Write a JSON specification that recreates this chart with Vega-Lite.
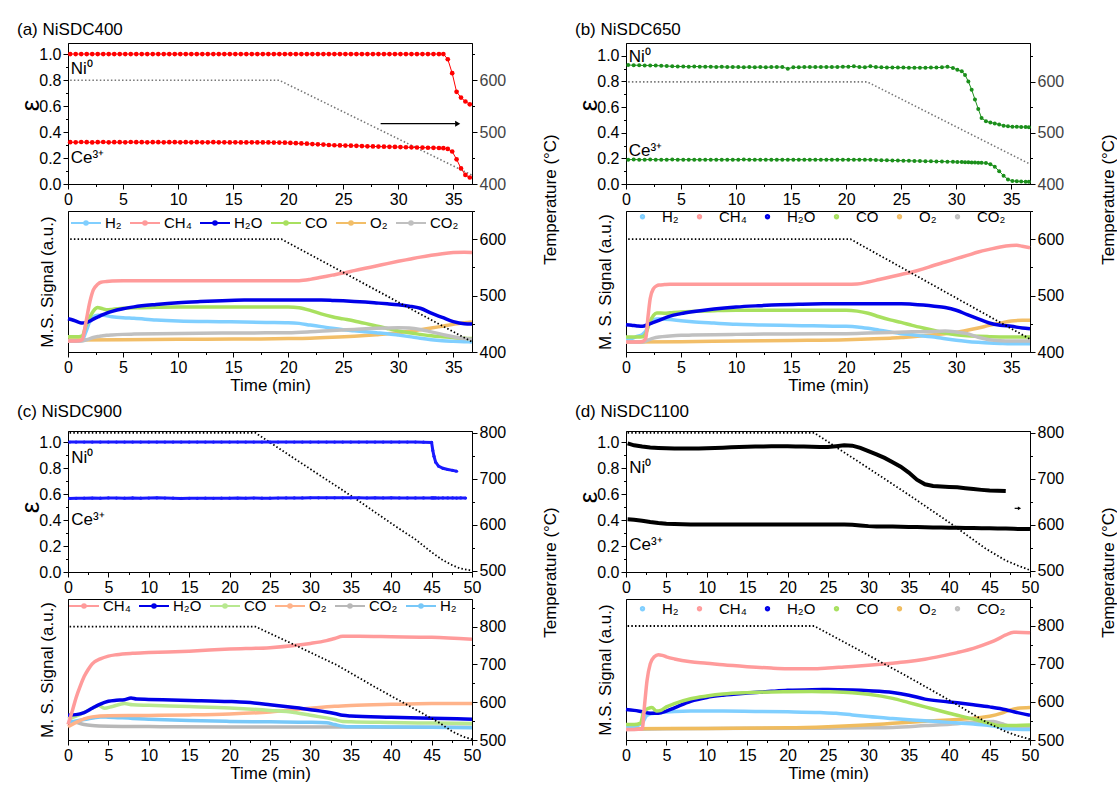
{
  "$schema": "https://vega.github.io/schema/vega-lite/v6.json",
  "background": "white",
  "padding": {"left": 16, "top": 20, "right": 0, "bottom": 0},
  "bounds": "flush",
  "columns": 2,
  "spacing": {"row": 27, "column": 154},
  "resolve": {"scale": {"color": "independent", "x": "independent", "y": "independent"}, "legend": {"color": "independent"}},
  "config": {
    "font": "Liberation Sans",
    "view": {"stroke": "#000", "strokeWidth": 1},
    "axis": {"labelFont": "Liberation Sans", "labelFontSize": 16, "titleFont": "Liberation Sans", "titleFontSize": 17, "titleFontWeight": "normal", "labelColor": "#000", "titleColor": "#000", "domainColor": "#000", "tickColor": "#000", "grid": false, "labelPadding": 2, "labelFlush": false, "labelOverlap": false},
    "title": {"font": "Liberation Sans", "fontSize": 17, "fontWeight": "normal", "anchor": "start", "offset": 4, "color": "#000"},
    "legend": {"labelFont": "Liberation Sans", "labelFontSize": 15, "labelColor": "#000", "padding": 0}
  },
  "datasets": {
    "aT": [
      {"t":0.2,"ni":1,"ce":0.322},{"t":0.7,"ni":1,"ce":0.321},{"t":1.2,"ni":1,"ce":0.323},{"t":1.7,"ni":1,"ce":0.322},{"t":2.2,"ni":1,"ce":0.32},{"t":2.7,"ni":1,"ce":0.322},{"t":3.2,"ni":1,"ce":0.323},{"t":3.7,"ni":1,"ce":0.321},{"t":4.2,"ni":1,"ce":0.322},{"t":4.7,"ni":1,"ce":0.322},{"t":5.2,"ni":1,"ce":0.321},{"t":5.7,"ni":1,"ce":0.323},{"t":6.2,"ni":1,"ce":0.322},{"t":6.7,"ni":1,"ce":0.322},{"t":7.2,"ni":1,"ce":0.321},{"t":7.7,"ni":1,"ce":0.322},{"t":8.2,"ni":1,"ce":0.322},{"t":8.7,"ni":1,"ce":0.321},{"t":9.2,"ni":1,"ce":0.322},{"t":9.7,"ni":1,"ce":0.322},{"t":10.2,"ni":1,"ce":0.321},{"t":10.7,"ni":1,"ce":0.322},{"t":11.2,"ni":1,"ce":0.321},{"t":11.7,"ni":1,"ce":0.322},{"t":12.2,"ni":1,"ce":0.321},{"t":12.7,"ni":1,"ce":0.321},{"t":13.2,"ni":1,"ce":0.322},{"t":13.7,"ni":1,"ce":0.321},{"t":14.2,"ni":1,"ce":0.321},{"t":14.7,"ni":1,"ce":0.32},{"t":15.2,"ni":1,"ce":0.321},{"t":15.7,"ni":1,"ce":0.32},{"t":16.2,"ni":1,"ce":0.32},{"t":16.7,"ni":1,"ce":0.321},{"t":17.2,"ni":1,"ce":0.32},{"t":17.7,"ni":1,"ce":0.32},{"t":18.2,"ni":1,"ce":0.32},{"t":18.7,"ni":1,"ce":0.319},{"t":19.2,"ni":1,"ce":0.319},{"t":19.7,"ni":1,"ce":0.318},{"t":20.2,"ni":1,"ce":0.316},{"t":20.7,"ni":1,"ce":0.314},{"t":21.2,"ni":1,"ce":0.312},{"t":21.7,"ni":1,"ce":0.31},{"t":22.2,"ni":1,"ce":0.307},{"t":22.7,"ni":1,"ce":0.305},{"t":23.2,"ni":1,"ce":0.303},{"t":23.7,"ni":1,"ce":0.3},{"t":24.2,"ni":1,"ce":0.298},{"t":24.7,"ni":1,"ce":0.297},{"t":25.2,"ni":1,"ce":0.296},{"t":25.7,"ni":1,"ce":0.295},{"t":26.2,"ni":1,"ce":0.294},{"t":26.7,"ni":1,"ce":0.292},{"t":27.2,"ni":1,"ce":0.29},{"t":27.7,"ni":1,"ce":0.289},{"t":28.2,"ni":1,"ce":0.288},{"t":28.7,"ni":1,"ce":0.287},{"t":29.2,"ni":1,"ce":0.286},{"t":29.7,"ni":1,"ce":0.285},{"t":30.2,"ni":1,"ce":0.284},{"t":30.7,"ni":1,"ce":0.283},{"t":31.2,"ni":1,"ce":0.282},{"t":31.7,"ni":1,"ce":0.281},{"t":32.2,"ni":1,"ce":0.28},{"t":32.7,"ni":1,"ce":0.279},{"t":33.2,"ni":1,"ce":0.278},{"t":33.7,"ni":1,"ce":0.277},{"t":34.1,"ni":1,"ce":0.276},{"t":34.5,"ni":0.96,"ce":0.27},{"t":34.9,"ni":0.853,"ce":0.25},{"t":35.3,"ni":0.709,"ce":0.19},{"t":35.7,"ni":0.665,"ce":0.12},{"t":36.1,"ni":0.635,"ce":0.07},{"t":36.5,"ni":0.613,"ce":0.05}
    ],
    "aTT": [{"t":0.2,"T":600},{"t":19.2,"T":600},{"t":36.7,"T":417}],
    "aL": [{"t":0.25,"e":0.885,"label":"Ni⁰"},{"t":0.25,"e":0.2,"label":"Ce³⁺"}],
    "aA": [{"t":28.4,"t2":35.2,"e":0.464}],
    "aAH": [{"t":35.4,"e":0.464}],
    "aBT": [{"t":0.2,"T":600},{"t":19.4,"T":600},{"t":36.7,"T":418}],
    "aM": [
      {"s":"O₂","t":0,"v":8.5},{"s":"O₂","t":5,"v":8.7},{"s":"O₂","t":10,"v":9},{"s":"O₂","t":15,"v":9.2},{"s":"O₂","t":20,"v":9.5},{"s":"O₂","t":22,"v":9.8},{"s":"O₂","t":24,"v":10.4},{"s":"O₂","t":26,"v":11.2},{"s":"O₂","t":28,"v":12.3},{"s":"O₂","t":30,"v":13.7},{"s":"O₂","t":31,"v":14.7},{"s":"O₂","t":32,"v":15.8},{"s":"O₂","t":33,"v":17},{"s":"O₂","t":34,"v":18.3},{"s":"O₂","t":35,"v":19.6},{"s":"O₂","t":36,"v":20.8},{"s":"O₂","t":36.7,"v":21.3},
      {"s":"H₂","t":0,"v":7.8},{"s":"H₂","t":1,"v":7.8},{"s":"H₂","t":1.3,"v":8.5},{"s":"H₂","t":1.6,"v":13.7},{"s":"H₂","t":2,"v":22},{"s":"H₂","t":2.3,"v":25},{"s":"H₂","t":2.7,"v":26},{"s":"H₂","t":3.2,"v":26},{"s":"H₂","t":4,"v":25},{"s":"H₂","t":5,"v":24.3},{"s":"H₂","t":6,"v":23.9},{"s":"H₂","t":8,"v":22.7},{"s":"H₂","t":10,"v":22},{"s":"H₂","t":14,"v":21.5},{"s":"H₂","t":18,"v":21},{"s":"H₂","t":20,"v":20.8},{"s":"H₂","t":21,"v":20.3},{"s":"H₂","t":22,"v":19.1},{"s":"H₂","t":23,"v":18},{"s":"H₂","t":24,"v":16.8},{"s":"H₂","t":25,"v":15.8},{"s":"H₂","t":26,"v":15.1},{"s":"H₂","t":27,"v":14.4},{"s":"H₂","t":28,"v":13.7},{"s":"H₂","t":29,"v":13},{"s":"H₂","t":30,"v":12},{"s":"H₂","t":31,"v":10.9},{"s":"H₂","t":32,"v":9.7},{"s":"H₂","t":33,"v":8.7},{"s":"H₂","t":34,"v":8},{"s":"H₂","t":35,"v":7.6},{"s":"H₂","t":36,"v":7.3},{"s":"H₂","t":36.7,"v":7.1},
      {"s":"CO","t":0,"v":10.9},{"s":"CO","t":1,"v":10.9},{"s":"CO","t":1.3,"v":11.5},{"s":"CO","t":1.6,"v":18},{"s":"CO","t":2,"v":25},{"s":"CO","t":2.3,"v":29},{"s":"CO","t":2.7,"v":31.5},{"s":"CO","t":3,"v":31},{"s":"CO","t":3.5,"v":30},{"s":"CO","t":4,"v":30.2},{"s":"CO","t":5,"v":31},{"s":"CO","t":6,"v":31.4},{"s":"CO","t":8,"v":31.7},{"s":"CO","t":10,"v":31.9},{"s":"CO","t":20,"v":31.9},{"s":"CO","t":21,"v":31.4},{"s":"CO","t":22,"v":29.5},{"s":"CO","t":23,"v":27},{"s":"CO","t":24,"v":25},{"s":"CO","t":25,"v":23.5},{"s":"CO","t":26,"v":22},{"s":"CO","t":27,"v":20.3},{"s":"CO","t":28,"v":18.5},{"s":"CO","t":29,"v":16.7},{"s":"CO","t":30,"v":15},{"s":"CO","t":31,"v":13.6},{"s":"CO","t":32,"v":12.5},{"s":"CO","t":33,"v":11.5},{"s":"CO","t":34,"v":10.8},{"s":"CO","t":35,"v":10.2},{"s":"CO","t":36,"v":9.7},{"s":"CO","t":36.7,"v":9.5},
      {"s":"CO₂","t":0,"v":7.8},{"s":"CO₂","t":1.3,"v":7.8},{"s":"CO₂","t":1.6,"v":8.5},{"s":"CO₂","t":2,"v":9.5},{"s":"CO₂","t":2.3,"v":10.3},{"s":"CO₂","t":2.7,"v":11},{"s":"CO₂","t":3,"v":11.3},{"s":"CO₂","t":3.5,"v":11.8},{"s":"CO₂","t":4,"v":12.1},{"s":"CO₂","t":5,"v":12.5},{"s":"CO₂","t":6,"v":12.7},{"s":"CO₂","t":8,"v":13},{"s":"CO₂","t":10,"v":13.2},{"s":"CO₂","t":14,"v":13.4},{"s":"CO₂","t":18,"v":13.6},{"s":"CO₂","t":20,"v":13.7},{"s":"CO₂","t":22,"v":14.3},{"s":"CO₂","t":24,"v":15.2},{"s":"CO₂","t":26,"v":16},{"s":"CO₂","t":28,"v":16.8},{"s":"CO₂","t":30,"v":17.2},{"s":"CO₂","t":31,"v":17},{"s":"CO₂","t":32,"v":16},{"s":"CO₂","t":33,"v":14.3},{"s":"CO₂","t":34,"v":12.5},{"s":"CO₂","t":35,"v":10.8},{"s":"CO₂","t":36,"v":9.5},{"s":"CO₂","t":36.7,"v":9},
      {"s":"H₂O","t":0,"v":23.6},{"s":"H₂O","t":0.5,"v":22.5},{"s":"H₂O","t":1,"v":21},{"s":"H₂O","t":1.3,"v":20.5},{"s":"H₂O","t":1.6,"v":20.8},{"s":"H₂O","t":2,"v":22},{"s":"H₂O","t":2.3,"v":23.3},{"s":"H₂O","t":2.7,"v":24.8},{"s":"H₂O","t":3,"v":26},{"s":"H₂O","t":3.5,"v":27.5},{"s":"H₂O","t":4,"v":28.8},{"s":"H₂O","t":5,"v":30.7},{"s":"H₂O","t":6,"v":32},{"s":"H₂O","t":8,"v":33.7},{"s":"H₂O","t":10,"v":35},{"s":"H₂O","t":12,"v":35.8},{"s":"H₂O","t":14,"v":36.4},{"s":"H₂O","t":16,"v":36.8},{"s":"H₂O","t":18,"v":36.9},{"s":"H₂O","t":22,"v":36.9},{"s":"H₂O","t":23,"v":36.8},{"s":"H₂O","t":24,"v":36.6},{"s":"H₂O","t":25,"v":36.3},{"s":"H₂O","t":26,"v":35.9},{"s":"H₂O","t":27,"v":35.4},{"s":"H₂O","t":28,"v":34.8},{"s":"H₂O","t":29,"v":34.2},{"s":"H₂O","t":30,"v":33.5},{"s":"H₂O","t":31,"v":32.5},{"s":"H₂O","t":32,"v":31},{"s":"H₂O","t":33,"v":27.5},{"s":"H₂O","t":34,"v":24.5},{"s":"H₂O","t":35,"v":21.5},{"s":"H₂O","t":36,"v":20},{"s":"H₂O","t":36.7,"v":19.8},
      {"s":"CH₄","t":0,"v":7.8},{"s":"CH₄","t":0.5,"v":7.8},{"s":"CH₄","t":1,"v":8},{"s":"CH₄","t":1.3,"v":9},{"s":"CH₄","t":1.6,"v":20},{"s":"CH₄","t":2,"v":36},{"s":"CH₄","t":2.3,"v":44},{"s":"CH₄","t":2.7,"v":48},{"s":"CH₄","t":3,"v":49.5},{"s":"CH₄","t":3.5,"v":50},{"s":"CH₄","t":4,"v":50.3},{"s":"CH₄","t":5,"v":50.5},{"s":"CH₄","t":10,"v":50.5},{"s":"CH₄","t":15,"v":50.5},{"s":"CH₄","t":20,"v":50.5},{"s":"CH₄","t":21,"v":50.6},{"s":"CH₄","t":22,"v":51.5},{"s":"CH₄","t":23,"v":53},{"s":"CH₄","t":24,"v":54.5},{"s":"CH₄","t":25,"v":56},{"s":"CH₄","t":26,"v":57.7},{"s":"CH₄","t":27,"v":59.4},{"s":"CH₄","t":28,"v":61},{"s":"CH₄","t":29,"v":62.7},{"s":"CH₄","t":30,"v":64.3},{"s":"CH₄","t":31,"v":65.8},{"s":"CH₄","t":32,"v":67.3},{"s":"CH₄","t":33,"v":68.6},{"s":"CH₄","t":34,"v":69.7},{"s":"CH₄","t":35,"v":70.5},{"s":"CH₄","t":36,"v":70.8},{"s":"CH₄","t":36.7,"v":70.5}
    ],
    "bT": [
      {"t":0.2,"ni":0.928,"ce":0.19},{"t":0.7,"ni":0.927,"ce":0.191},{"t":1.2,"ni":0.926,"ce":0.19},{"t":1.7,"ni":0.925,"ce":0.19},{"t":2.2,"ni":0.925,"ce":0.191},{"t":2.7,"ni":0.924,"ce":0.19},{"t":3.2,"ni":0.922,"ce":0.19},{"t":3.7,"ni":0.92,"ce":0.19},{"t":4.2,"ni":0.918,"ce":0.191},{"t":4.7,"ni":0.917,"ce":0.19},{"t":5.2,"ni":0.916,"ce":0.19},{"t":5.7,"ni":0.915,"ce":0.19},{"t":6.2,"ni":0.917,"ce":0.19},{"t":6.7,"ni":0.915,"ce":0.189},{"t":7.2,"ni":0.914,"ce":0.19},{"t":7.7,"ni":0.915,"ce":0.19},{"t":8.2,"ni":0.913,"ce":0.19},{"t":8.7,"ni":0.914,"ce":0.19},{"t":9.2,"ni":0.912,"ce":0.19},{"t":9.7,"ni":0.913,"ce":0.19},{"t":10.2,"ni":0.912,"ce":0.19},{"t":10.7,"ni":0.911,"ce":0.191},{"t":11.2,"ni":0.912,"ce":0.19},{"t":11.7,"ni":0.911,"ce":0.19},{"t":12.2,"ni":0.912,"ce":0.19},{"t":12.7,"ni":0.911,"ce":0.19},{"t":13.2,"ni":0.912,"ce":0.19},{"t":13.7,"ni":0.913,"ce":0.19},{"t":14.2,"ni":0.912,"ce":0.19},{"t":14.7,"ni":0.9,"ce":0.19},{"t":15.2,"ni":0.91,"ce":0.19},{"t":15.7,"ni":0.911,"ce":0.19},{"t":16.2,"ni":0.912,"ce":0.19},{"t":16.7,"ni":0.912,"ce":0.19},{"t":17.2,"ni":0.912,"ce":0.19},{"t":17.7,"ni":0.913,"ce":0.19},{"t":18.2,"ni":0.913,"ce":0.19},{"t":18.7,"ni":0.912,"ce":0.19},{"t":19.2,"ni":0.913,"ce":0.19},{"t":19.7,"ni":0.914,"ce":0.19},{"t":20.2,"ni":0.915,"ce":0.19},{"t":20.7,"ni":0.918,"ce":0.19},{"t":21.2,"ni":0.912,"ce":0.19},{"t":21.7,"ni":0.91,"ce":0.19},{"t":22.2,"ni":0.918,"ce":0.189},{"t":22.7,"ni":0.912,"ce":0.188},{"t":23.2,"ni":0.91,"ce":0.186},{"t":23.7,"ni":0.909,"ce":0.185},{"t":24.2,"ni":0.909,"ce":0.184},{"t":24.7,"ni":0.908,"ce":0.183},{"t":25.2,"ni":0.908,"ce":0.182},{"t":25.7,"ni":0.907,"ce":0.181},{"t":26.2,"ni":0.907,"ce":0.18},{"t":26.7,"ni":0.907,"ce":0.179},{"t":27.2,"ni":0.907,"ce":0.178},{"t":27.7,"ni":0.908,"ce":0.177},{"t":28.2,"ni":0.908,"ce":0.176},{"t":28.7,"ni":0.91,"ce":0.175},{"t":29.2,"ni":0.915,"ce":0.174},{"t":29.7,"ni":0.905,"ce":0.173},{"t":30.1,"ni":0.892,"ce":0.172},{"t":30.5,"ni":0.88,"ce":0.171},{"t":30.8,"ni":0.85,"ce":0.17},{"t":31.1,"ni":0.8,"ce":0.169},{"t":31.4,"ni":0.735,"ce":0.168},{"t":31.7,"ni":0.66,"ce":0.167},{"t":32,"ni":0.585,"ce":0.166},{"t":32.3,"ni":0.515,"ce":0.165},{"t":32.7,"ni":0.49,"ce":0.163},{"t":33.1,"ni":0.48,"ce":0.155},{"t":33.5,"ni":0.472,"ce":0.135},{"t":33.9,"ni":0.465,"ce":0.1},{"t":34.3,"ni":0.455,"ce":0.065},{"t":34.7,"ni":0.45,"ce":0.035},{"t":35.1,"ni":0.447,"ce":0.024},{"t":35.5,"ni":0.446,"ce":0.022},{"t":35.9,"ni":0.445,"ce":0.02},{"t":36.3,"ni":0.444,"ce":0.018},{"t":36.6,"ni":0.443,"ce":0.017}
    ],
    "bTT": [{"t":0.2,"T":600},{"t":21.9,"T":600},{"t":36.7,"T":439}],
    "bL": [{"t":0.25,"e":0.99,"label":"Ni⁰"},{"t":0.25,"e":0.26,"label":"Ce³⁺"}],
    "bBT": [{"t":0.2,"T":600},{"t":20.4,"T":600},{"t":36.7,"T":423}],
    "bM": [
      {"s":"O₂","t":0,"v":7.1},{"s":"O₂","t":5,"v":7.3},{"s":"O₂","t":10,"v":7.8},{"s":"O₂","t":15,"v":8.2},{"s":"O₂","t":20,"v":8.7},{"s":"O₂","t":22,"v":9.2},{"s":"O₂","t":24,"v":9.8},{"s":"O₂","t":25,"v":10.2},{"s":"O₂","t":26,"v":10.8},{"s":"O₂","t":27,"v":11.5},{"s":"O₂","t":28,"v":12.3},{"s":"O₂","t":29,"v":13},{"s":"O₂","t":30,"v":14},{"s":"O₂","t":31,"v":15.4},{"s":"O₂","t":32,"v":17},{"s":"O₂","t":33,"v":18.9},{"s":"O₂","t":34,"v":20.5},{"s":"O₂","t":35,"v":22},{"s":"O₂","t":36,"v":22.5},{"s":"O₂","t":36.7,"v":22.5},
      {"s":"H₂","t":0,"v":9},{"s":"H₂","t":0.5,"v":9.5},{"s":"H₂","t":1,"v":11},{"s":"H₂","t":1.5,"v":12.5},{"s":"H₂","t":1.8,"v":15},{"s":"H₂","t":2.1,"v":20},{"s":"H₂","t":2.5,"v":23},{"s":"H₂","t":3,"v":23.6},{"s":"H₂","t":3.5,"v":23.3},{"s":"H₂","t":4,"v":23},{"s":"H₂","t":5,"v":22.2},{"s":"H₂","t":6,"v":21.5},{"s":"H₂","t":8,"v":20.5},{"s":"H₂","t":10,"v":19.6},{"s":"H₂","t":12,"v":19.2},{"s":"H₂","t":14,"v":18.9},{"s":"H₂","t":16,"v":18.7},{"s":"H₂","t":18,"v":18.4},{"s":"H₂","t":20,"v":18.2},{"s":"H₂","t":21,"v":17.8},{"s":"H₂","t":22,"v":16.8},{"s":"H₂","t":23,"v":15.5},{"s":"H₂","t":24,"v":14.2},{"s":"H₂","t":25,"v":13},{"s":"H₂","t":26,"v":12.2},{"s":"H₂","t":27,"v":11.3},{"s":"H₂","t":28,"v":10.6},{"s":"H₂","t":29,"v":9.4},{"s":"H₂","t":30,"v":8.3},{"s":"H₂","t":31,"v":7.5},{"s":"H₂","t":32,"v":6.9},{"s":"H₂","t":33,"v":6.4},{"s":"H₂","t":34,"v":6.1},{"s":"H₂","t":35,"v":5.9},{"s":"H₂","t":36.7,"v":5.9},
      {"s":"CO","t":0,"v":10.6},{"s":"CO","t":1,"v":10.6},{"s":"CO","t":1.5,"v":10.8},{"s":"CO","t":1.8,"v":13},{"s":"CO","t":2.1,"v":20},{"s":"CO","t":2.5,"v":26},{"s":"CO","t":2.8,"v":27.7},{"s":"CO","t":3.5,"v":27.5},{"s":"CO","t":4,"v":27.8},{"s":"CO","t":5,"v":28.4},{"s":"CO","t":6,"v":28.8},{"s":"CO","t":8,"v":29.3},{"s":"CO","t":10,"v":29.6},{"s":"CO","t":20,"v":29.6},{"s":"CO","t":21,"v":29},{"s":"CO","t":22,"v":27.5},{"s":"CO","t":23,"v":25},{"s":"CO","t":24,"v":22.8},{"s":"CO","t":25,"v":21},{"s":"CO","t":26,"v":18.9},{"s":"CO","t":27,"v":17},{"s":"CO","t":28,"v":15.2},{"s":"CO","t":29,"v":13.5},{"s":"CO","t":30,"v":12.3},{"s":"CO","t":31,"v":11.6},{"s":"CO","t":32,"v":11.2},{"s":"CO","t":33,"v":10.9},{"s":"CO","t":34,"v":10.7},{"s":"CO","t":35,"v":10.6},{"s":"CO","t":36.7,"v":10.6},
      {"s":"CO₂","t":0,"v":7.1},{"s":"CO₂","t":1.5,"v":7.1},{"s":"CO₂","t":2,"v":8.5},{"s":"CO₂","t":2.5,"v":9.8},{"s":"CO₂","t":3,"v":10.6},{"s":"CO₂","t":4,"v":11.3},{"s":"CO₂","t":5,"v":11.8},{"s":"CO₂","t":6,"v":12},{"s":"CO₂","t":8,"v":12.3},{"s":"CO₂","t":10,"v":12.5},{"s":"CO₂","t":14,"v":12.8},{"s":"CO₂","t":18,"v":13},{"s":"CO₂","t":20,"v":13},{"s":"CO₂","t":22,"v":13.4},{"s":"CO₂","t":24,"v":13.9},{"s":"CO₂","t":26,"v":14.3},{"s":"CO₂","t":28,"v":14.6},{"s":"CO₂","t":29,"v":14.9},{"s":"CO₂","t":30,"v":14.2},{"s":"CO₂","t":31,"v":13},{"s":"CO₂","t":32,"v":10.5},{"s":"CO₂","t":33,"v":8.7},{"s":"CO₂","t":34,"v":8},{"s":"CO₂","t":35,"v":7.8},{"s":"CO₂","t":36.7,"v":7.8},
      {"s":"H₂O","t":0,"v":19.4},{"s":"H₂O","t":0.5,"v":19},{"s":"H₂O","t":1,"v":18.5},{"s":"H₂O","t":1.5,"v":18.2},{"s":"H₂O","t":2,"v":19.5},{"s":"H₂O","t":2.5,"v":21},{"s":"H₂O","t":3,"v":22.5},{"s":"H₂O","t":3.5,"v":24},{"s":"H₂O","t":4,"v":25.5},{"s":"H₂O","t":5,"v":27.2},{"s":"H₂O","t":6,"v":28.5},{"s":"H₂O","t":8,"v":30.5},{"s":"H₂O","t":10,"v":31.9},{"s":"H₂O","t":12,"v":32.8},{"s":"H₂O","t":14,"v":33.5},{"s":"H₂O","t":16,"v":33.9},{"s":"H₂O","t":18,"v":34.2},{"s":"H₂O","t":20,"v":34.3},{"s":"H₂O","t":25,"v":34.3},{"s":"H₂O","t":26,"v":33.9},{"s":"H₂O","t":27,"v":33.3},{"s":"H₂O","t":28,"v":32.5},{"s":"H₂O","t":29,"v":31.5},{"s":"H₂O","t":30,"v":29.6},{"s":"H₂O","t":31,"v":26.5},{"s":"H₂O","t":32,"v":23.5},{"s":"H₂O","t":33,"v":20.6},{"s":"H₂O","t":34,"v":19},{"s":"H₂O","t":35,"v":18.2},{"s":"H₂O","t":36,"v":17},{"s":"H₂O","t":36.7,"v":16.5},
      {"s":"CH₄","t":0,"v":7.1},{"s":"CH₄","t":1,"v":7.1},{"s":"CH₄","t":1.5,"v":7.5},{"s":"CH₄","t":1.8,"v":10},{"s":"CH₄","t":2,"v":25},{"s":"CH₄","t":2.2,"v":38},{"s":"CH₄","t":2.5,"v":45},{"s":"CH₄","t":2.8,"v":47},{"s":"CH₄","t":3,"v":47.5},{"s":"CH₄","t":3.5,"v":47.8},{"s":"CH₄","t":4,"v":48},{"s":"CH₄","t":10,"v":48},{"s":"CH₄","t":15,"v":48},{"s":"CH₄","t":20,"v":48},{"s":"CH₄","t":21,"v":48.2},{"s":"CH₄","t":22,"v":49.6},{"s":"CH₄","t":23,"v":51.4},{"s":"CH₄","t":24,"v":53.2},{"s":"CH₄","t":25,"v":55},{"s":"CH₄","t":26,"v":56.7},{"s":"CH₄","t":27,"v":59},{"s":"CH₄","t":28,"v":61.5},{"s":"CH₄","t":29,"v":63.8},{"s":"CH₄","t":30,"v":66.2},{"s":"CH₄","t":31,"v":68.5},{"s":"CH₄","t":32,"v":70.9},{"s":"CH₄","t":33,"v":72.8},{"s":"CH₄","t":34,"v":74.5},{"s":"CH₄","t":35,"v":75.5},{"s":"CH₄","t":35.5,"v":75.7},{"s":"CH₄","t":36,"v":75},{"s":"CH₄","t":36.7,"v":74}
    ],
    "cT": [
      {"t":0.2,"ni":1,"ce":0.566},{"t":1,"ni":1,"ce":0.567},{"t":2,"ni":1,"ce":0.568},{"t":3,"ni":1,"ce":0.569},{"t":4,"ni":1,"ce":0.568},{"t":5,"ni":1,"ce":0.57},{"t":6,"ni":1,"ce":0.569},{"t":7,"ni":1,"ce":0.568},{"t":8,"ni":1,"ce":0.57},{"t":9,"ni":1,"ce":0.568},{"t":10,"ni":1,"ce":0.569},{"t":11,"ni":1,"ce":0.571},{"t":12,"ni":1,"ce":0.569},{"t":13,"ni":1,"ce":0.568},{"t":14,"ni":1,"ce":0.566},{"t":15,"ni":1,"ce":0.567},{"t":16,"ni":1,"ce":0.567},{"t":17,"ni":1,"ce":0.568},{"t":18,"ni":1,"ce":0.567},{"t":19,"ni":1,"ce":0.568},{"t":20,"ni":1,"ce":0.568},{"t":21,"ni":1,"ce":0.569},{"t":22,"ni":1,"ce":0.568},{"t":23,"ni":1,"ce":0.569},{"t":24,"ni":1,"ce":0.568},{"t":25,"ni":1,"ce":0.568},{"t":26,"ni":1,"ce":0.569},{"t":27,"ni":1,"ce":0.57},{"t":28,"ni":1,"ce":0.57},{"t":29,"ni":1,"ce":0.57},{"t":30,"ni":1,"ce":0.571},{"t":31,"ni":1,"ce":0.571},{"t":32,"ni":1,"ce":0.571},{"t":33,"ni":1,"ce":0.571},{"t":34,"ni":1,"ce":0.571},{"t":35,"ni":1,"ce":0.571},{"t":36,"ni":1,"ce":0.571},{"t":37,"ni":1,"ce":0.57},{"t":38,"ni":1,"ce":0.571},{"t":39,"ni":1,"ce":0.57},{"t":40,"ni":1,"ce":0.571},{"t":41,"ni":1,"ce":0.57},{"t":42,"ni":1,"ce":0.57},{"t":43,"ni":1,"ce":0.57},{"t":44,"ni":0.999,"ce":0.57},{"t":45,"ni":0.997,"ce":0.57},{"t":45.15,"ni":0.935,"ce":0.57},{"t":45.3,"ni":0.89,"ce":0.57},{"t":45.5,"ni":0.845,"ce":0.57},{"t":45.85,"ni":0.815,"ce":0.569},{"t":46.4,"ni":0.798,"ce":0.57},{"t":47,"ni":0.789,"ce":0.57},{"t":47.6,"ni":0.782,"ce":0.57},{"t":48.1,"ni":0.775,"ce":0.569},{"t":48.6,"ni":null,"ce":0.57},{"t":49.2,"ni":null,"ce":0.569}
    ],
    "cTT": [{"t":0.2,"T":800},{"t":23.2,"T":800},{"t":30,"T":721},{"t":35.3,"T":660},{"t":40.5,"T":597},{"t":43,"T":568},{"t":45,"T":540},{"t":46.2,"T":525},{"t":47.4,"T":513},{"t":48.5,"T":505},{"t":50,"T":500}],
    "cL": [{"t":0.4,"e":0.88,"label":"Ni⁰"},{"t":0.4,"e":0.4,"label":"Ce³⁺"}],
    "cBT": [{"t":0.2,"T":800},{"t":23.2,"T":800},{"t":28,"T":752},{"t":33.3,"T":698},{"t":38,"T":640},{"t":43.5,"T":575},{"t":46,"T":545},{"t":47.6,"T":522},{"t":49,"T":508},{"t":50,"T":502}],
    "cM": [
      {"s":"CO₂","t":0,"v":14},{"s":"CO₂","t":1,"v":12.5},{"s":"CO₂","t":2,"v":11},{"s":"CO₂","t":3,"v":10.3},{"s":"CO₂","t":5,"v":9.8},{"s":"CO₂","t":10,"v":9.5},{"s":"CO₂","t":20,"v":9.3},{"s":"CO₂","t":30,"v":9.2},{"s":"CO₂","t":40,"v":9.1},{"s":"CO₂","t":50,"v":9},
      {"s":"H₂","t":0,"v":12.5},{"s":"H₂","t":2,"v":14.5},{"s":"H₂","t":4,"v":16.4},{"s":"H₂","t":5,"v":16.2},{"s":"H₂","t":8,"v":15.3},{"s":"H₂","t":10,"v":14.8},{"s":"H₂","t":15,"v":13.8},{"s":"H₂","t":20,"v":13.2},{"s":"H₂","t":25,"v":12.9},{"s":"H₂","t":30,"v":12.6},{"s":"H₂","t":32,"v":12.2},{"s":"H₂","t":33,"v":11},{"s":"H₂","t":34,"v":9.8},{"s":"H₂","t":35,"v":9.4},{"s":"H₂","t":40,"v":9.3},{"s":"H₂","t":45,"v":9},{"s":"H₂","t":50,"v":8.7},
      {"s":"O₂","t":0,"v":9.4},{"s":"O₂","t":1,"v":12.5},{"s":"O₂","t":2,"v":15},{"s":"O₂","t":3,"v":16.4},{"s":"O₂","t":5,"v":17.2},{"s":"O₂","t":10,"v":17.4},{"s":"O₂","t":15,"v":17.8},{"s":"O₂","t":20,"v":18.5},{"s":"O₂","t":25,"v":19.9},{"s":"O₂","t":30,"v":22.5},{"s":"O₂","t":33,"v":23.9},{"s":"O₂","t":35,"v":24.5},{"s":"O₂","t":40,"v":25.3},{"s":"O₂","t":45,"v":25.8},{"s":"O₂","t":50,"v":25.8},
      {"s":"CO","t":0,"v":15},{"s":"CO","t":1,"v":17},{"s":"CO","t":2,"v":19.5},{"s":"CO","t":3,"v":22.5},{"s":"CO","t":3.8,"v":24.5},{"s":"CO","t":4.5,"v":22.5},{"s":"CO","t":5.5,"v":23.8},{"s":"CO","t":7,"v":25.8},{"s":"CO","t":8,"v":25},{"s":"CO","t":10,"v":24.6},{"s":"CO","t":15,"v":23.7},{"s":"CO","t":20,"v":22.7},{"s":"CO","t":25,"v":21},{"s":"CO","t":28,"v":19.5},{"s":"CO","t":30,"v":17.5},{"s":"CO","t":33,"v":14.5},{"s":"CO","t":34,"v":13.1},{"s":"CO","t":35,"v":12.9},{"s":"CO","t":40,"v":12.4},{"s":"CO","t":45,"v":12},{"s":"CO","t":50,"v":11.7},
      {"s":"H₂O","t":0,"v":17.6},{"s":"H₂O","t":1,"v":18},{"s":"H₂O","t":2,"v":19.5},{"s":"H₂O","t":3,"v":22.5},{"s":"H₂O","t":4,"v":25.5},{"s":"H₂O","t":5,"v":27.5},{"s":"H₂O","t":6,"v":28.2},{"s":"H₂O","t":7,"v":28.6},{"s":"H₂O","t":7.8,"v":29.8},{"s":"H₂O","t":8.5,"v":29},{"s":"H₂O","t":10,"v":28.8},{"s":"H₂O","t":15,"v":28.1},{"s":"H₂O","t":20,"v":27.3},{"s":"H₂O","t":22,"v":26.7},{"s":"H₂O","t":25,"v":25},{"s":"H₂O","t":28,"v":23},{"s":"H₂O","t":30,"v":21.5},{"s":"H₂O","t":33,"v":18.8},{"s":"H₂O","t":34,"v":17.5},{"s":"H₂O","t":35,"v":17},{"s":"H₂O","t":40,"v":16.1},{"s":"H₂O","t":45,"v":15.4},{"s":"H₂O","t":50,"v":14.8},
      {"s":"CH₄","t":0,"v":11},{"s":"CH₄","t":0.5,"v":20},{"s":"CH₄","t":1,"v":30},{"s":"CH₄","t":1.5,"v":38},{"s":"CH₄","t":2,"v":45},{"s":"CH₄","t":2.5,"v":50},{"s":"CH₄","t":3,"v":54},{"s":"CH₄","t":4,"v":57.5},{"s":"CH₄","t":5,"v":59.5},{"s":"CH₄","t":6,"v":60.5},{"s":"CH₄","t":8,"v":61.5},{"s":"CH₄","t":10,"v":62},{"s":"CH₄","t":15,"v":63},{"s":"CH₄","t":20,"v":64.5},{"s":"CH₄","t":25,"v":65.5},{"s":"CH₄","t":28,"v":67},{"s":"CH₄","t":30,"v":68.5},{"s":"CH₄","t":32,"v":70.5},{"s":"CH₄","t":33,"v":72},{"s":"CH₄","t":34,"v":73.5},{"s":"CH₄","t":36,"v":73.5},{"s":"CH₄","t":40,"v":73.2},{"s":"CH₄","t":45,"v":72.8},{"s":"CH₄","t":50,"v":71.5}
    ],
    "dT": [
      {"t":0.2,"ni":0.99,"ce":0.405},{"t":1,"ni":0.975,"ce":0.402},{"t":2,"ni":0.965,"ce":0.395},{"t":3,"ni":0.958,"ce":0.385},{"t":4,"ni":0.955,"ce":0.377},{"t":5,"ni":0.952,"ce":0.372},{"t":6,"ni":0.95,"ce":0.369},{"t":7,"ni":0.95,"ce":0.367},{"t":8,"ni":0.95,"ce":0.366},{"t":9,"ni":0.951,"ce":0.366},{"t":10,"ni":0.953,"ce":0.366},{"t":11,"ni":0.955,"ce":0.366},{"t":12,"ni":0.957,"ce":0.366},{"t":13,"ni":0.96,"ce":0.366},{"t":14,"ni":0.962,"ce":0.366},{"t":15,"ni":0.963,"ce":0.366},{"t":16,"ni":0.965,"ce":0.366},{"t":17,"ni":0.966,"ce":0.366},{"t":18,"ni":0.967,"ce":0.366},{"t":19,"ni":0.967,"ce":0.366},{"t":20,"ni":0.967,"ce":0.366},{"t":21,"ni":0.966,"ce":0.366},{"t":22,"ni":0.965,"ce":0.366},{"t":23,"ni":0.963,"ce":0.366},{"t":24,"ni":0.962,"ce":0.366},{"t":25,"ni":0.962,"ce":0.366},{"t":26,"ni":0.968,"ce":0.365},{"t":27,"ni":0.975,"ce":0.365},{"t":28,"ni":0.972,"ce":0.364},{"t":29,"ni":0.955,"ce":0.358},{"t":30,"ni":0.93,"ce":0.353},{"t":31,"ni":0.905,"ce":0.35},{"t":32,"ni":0.878,"ce":0.35},{"t":33,"ni":0.845,"ce":0.35},{"t":34,"ni":0.81,"ce":0.348},{"t":35,"ni":0.765,"ce":0.347},{"t":36,"ni":0.71,"ce":0.346},{"t":37,"ni":0.675,"ce":0.345},{"t":38,"ni":0.662,"ce":0.343},{"t":39,"ni":0.658,"ce":0.342},{"t":40,"ni":0.655,"ce":0.341},{"t":41,"ni":0.652,"ce":0.34},{"t":42,"ni":0.645,"ce":0.339},{"t":43,"ni":0.638,"ce":0.338},{"t":44,"ni":0.632,"ce":0.337},{"t":45,"ni":0.627,"ce":0.336},{"t":46,"ni":0.625,"ce":0.335},{"t":47,"ni":0.623,"ce":0.334},{"t":48,"ni":null,"ce":0.332},{"t":49,"ni":null,"ce":0.331},{"t":50,"ni":null,"ce":0.33}
    ],
    "dTT": [{"t":0.2,"T":800},{"t":23.3,"T":800},{"t":30,"T":723},{"t":35,"T":665},{"t":40,"T":605},{"t":44.5,"T":548},{"t":47,"T":522},{"t":48.5,"T":511},{"t":50,"T":501}],
    "dL": [{"t":0.4,"e":0.8,"label":"Ni⁰"},{"t":0.4,"e":0.205,"label":"Ce³⁺"}],
    "dA": [{"t":48.1,"t2":48.6,"e":0.49}],
    "dAH": [{"t":48.7,"e":0.49}],
    "dBT": [{"t":0.2,"T":800},{"t":23.3,"T":800},{"t":30,"T":723},{"t":35,"T":665},{"t":40,"T":605},{"t":44.5,"T":548},{"t":47,"T":522},{"t":48.5,"T":511},{"t":50,"T":502}],
    "dM": [
      {"s":"CO₂","t":0,"v":7.5},{"s":"CO₂","t":5,"v":8},{"s":"CO₂","t":15,"v":8.3},{"s":"CO₂","t":25,"v":8.4},{"s":"CO₂","t":30,"v":8.6},{"s":"CO₂","t":33,"v":8.9},{"s":"CO₂","t":37,"v":10.2},{"s":"CO₂","t":41,"v":11.6},{"s":"CO₂","t":44,"v":13},{"s":"CO₂","t":45.5,"v":13.2},{"s":"CO₂","t":46.5,"v":11.5},{"s":"CO₂","t":47.5,"v":9.8},{"s":"CO₂","t":50,"v":8.7},
      {"s":"O₂","t":0,"v":8},{"s":"O₂","t":10,"v":8.2},{"s":"O₂","t":20,"v":8.6},{"s":"O₂","t":25,"v":9.4},{"s":"O₂","t":29,"v":10.4},{"s":"O₂","t":33,"v":11.8},{"s":"O₂","t":37,"v":13.3},{"s":"O₂","t":41,"v":14.5},{"s":"O₂","t":43.5,"v":15.8},{"s":"O₂","t":45,"v":16.8},{"s":"O₂","t":46.5,"v":19},{"s":"O₂","t":47.5,"v":21.2},{"s":"O₂","t":48.5,"v":22.5},{"s":"O₂","t":50,"v":23},
      {"s":"H₂","t":0,"v":9.5},{"s":"H₂","t":1,"v":9.8},{"s":"H₂","t":2,"v":12},{"s":"H₂","t":2.5,"v":17},{"s":"H₂","t":3,"v":18.5},{"s":"H₂","t":4,"v":19.3},{"s":"H₂","t":6,"v":20.2},{"s":"H₂","t":8,"v":20.5},{"s":"H₂","t":12,"v":20.5},{"s":"H₂","t":16,"v":20.3},{"s":"H₂","t":20,"v":20},{"s":"H₂","t":24,"v":19.5},{"s":"H₂","t":26,"v":19},{"s":"H₂","t":28,"v":17.8},{"s":"H₂","t":30,"v":16.6},{"s":"H₂","t":33,"v":15.2},{"s":"H₂","t":36,"v":14},{"s":"H₂","t":40,"v":12.5},{"s":"H₂","t":43,"v":11.3},{"s":"H₂","t":45,"v":10.3},{"s":"H₂","t":46,"v":9.3},{"s":"H₂","t":47,"v":8},{"s":"H₂","t":50,"v":7.5},
      {"s":"H₂O","t":0,"v":21.7},{"s":"H₂O","t":1,"v":21},{"s":"H₂O","t":2,"v":20},{"s":"H₂O","t":3,"v":19},{"s":"H₂O","t":4,"v":19},{"s":"H₂O","t":5,"v":20.5},{"s":"H₂O","t":6,"v":22.8},{"s":"H₂O","t":8,"v":27.5},{"s":"H₂O","t":10,"v":30.2},{"s":"H₂O","t":12,"v":31.8},{"s":"H₂O","t":15,"v":33.3},{"s":"H₂O","t":18,"v":34.5},{"s":"H₂O","t":20,"v":35.2},{"s":"H₂O","t":23,"v":35.7},{"s":"H₂O","t":25,"v":35.8},{"s":"H₂O","t":28,"v":35.4},{"s":"H₂O","t":30,"v":34.9},{"s":"H₂O","t":33,"v":33.7},{"s":"H₂O","t":35,"v":31.8},{"s":"H₂O","t":37,"v":29},{"s":"H₂O","t":40,"v":27},{"s":"H₂O","t":43,"v":25},{"s":"H₂O","t":45,"v":23.5},{"s":"H₂O","t":47,"v":21.5},{"s":"H₂O","t":48,"v":20},{"s":"H₂O","t":50,"v":17.5},
      {"s":"CO","t":0,"v":11},{"s":"CO","t":1,"v":11},{"s":"CO","t":1.8,"v":12},{"s":"CO","t":2.2,"v":20},{"s":"CO","t":2.8,"v":22.5},{"s":"CO","t":3.2,"v":23},{"s":"CO","t":3.8,"v":20.5},{"s":"CO","t":4.3,"v":21},{"s":"CO","t":5,"v":23.5},{"s":"CO","t":6,"v":25.8},{"s":"CO","t":8,"v":29.3},{"s":"CO","t":10,"v":31.2},{"s":"CO","t":12,"v":32.6},{"s":"CO","t":15,"v":33.6},{"s":"CO","t":18,"v":34.1},{"s":"CO","t":20,"v":34.3},{"s":"CO","t":23,"v":34.4},{"s":"CO","t":25,"v":34.2},{"s":"CO","t":28,"v":33.5},{"s":"CO","t":30,"v":32.4},{"s":"CO","t":33,"v":29.5},{"s":"CO","t":35,"v":26.5},{"s":"CO","t":37,"v":23.5},{"s":"CO","t":40,"v":19},{"s":"CO","t":43,"v":14.8},{"s":"CO","t":45,"v":11.8},{"s":"CO","t":46,"v":10.3},{"s":"CO","t":47,"v":10.2},{"s":"CO","t":50,"v":10.6},
      {"s":"CH₄","t":0,"v":7.5},{"s":"CH₄","t":1,"v":7.5},{"s":"CH₄","t":2,"v":7.8},{"s":"CH₄","t":2.3,"v":25},{"s":"CH₄","t":2.6,"v":42},{"s":"CH₄","t":3,"v":54},{"s":"CH₄","t":3.5,"v":59},{"s":"CH₄","t":4,"v":60.5},{"s":"CH₄","t":4.5,"v":60},{"s":"CH₄","t":5,"v":59},{"s":"CH₄","t":6,"v":57.5},{"s":"CH₄","t":8,"v":55.5},{"s":"CH₄","t":10,"v":54.5},{"s":"CH₄","t":12,"v":53.3},{"s":"CH₄","t":15,"v":52},{"s":"CH₄","t":18,"v":51},{"s":"CH₄","t":20,"v":50.6},{"s":"CH₄","t":23,"v":50.5},{"s":"CH₄","t":25,"v":51},{"s":"CH₄","t":27,"v":51.8},{"s":"CH₄","t":30,"v":53},{"s":"CH₄","t":33,"v":54.5},{"s":"CH₄","t":35,"v":55.6},{"s":"CH₄","t":37,"v":57.3},{"s":"CH₄","t":39,"v":59.5},{"s":"CH₄","t":41,"v":62},{"s":"CH₄","t":43,"v":65},{"s":"CH₄","t":45,"v":69},{"s":"CH₄","t":46,"v":71.5},{"s":"CH₄","t":47,"v":74.5},{"s":"CH₄","t":48,"v":76.4},{"s":"CH₄","t":50,"v":76}
    ],
    "blank": [{"a": 1}]
  },
  "concat": [
    {
      "width": 404, "height": 141,
      "title": {"text": "(a) NiSDC400"},
      "encoding": {"x": {"field": "t", "type": "quantitative", "scale": {"domain": [0, 36.7], "nice": false, "zero": false},
        "axis": {"title": null, "format": "d", "values": [0,2.5,5,7.5,10,12.5,15,17.5,20,22.5,25,27.5,30,32.5,35], "labelExpr": "datum.value % 5 === 0 ? datum.label : ''", "tickSize": {"condition": {"test": "datum.value % 5 !== 0", "value": 2.5}, "value": 5}}}},
      "layer": [
        {"data": {"name": "aTT"}, "mark": {"type": "line", "color": "#777", "strokeDash": [1.5, 2.2], "strokeWidth": 1.6},
         "encoding": {"y": {"field": "T", "type": "quantitative", "scale": {"domain": [400, 672], "nice": false, "zero": false},
           "axis": {"orient": "right", "values": [400,450,500,550,600,650], "labelColor": "#444", "labelExpr": "datum.value % 100 === 0 ? datum.label : ''", "tickSize": {"condition": {"test": "datum.value % 100 !== 0", "value": 2.5}, "value": 5}, "title": "Temperature (°C)", "titleAngle": 270, "titleX": 78, "titleY": 156, "titleAlign": "center", "titleBaseline": "middle"}}}},
        {"encoding": {"y": {"field": "e", "type": "quantitative", "scale": {"domain": [0, 1.085], "nice": false},
           "axis": {"orient": "left", "values": [0,0.1,0.2,0.3,0.4,0.5,0.6,0.7,0.8,0.9,1], "labelExpr": "round(datum.value*10) % 2 === 0 ? format(datum.value, '.1f') : ''", "tickSize": {"condition": {"test": "round(datum.value*10) % 2 !== 0", "value": 2.5}, "value": 5}, "title": "ε", "titleFontSize": 26, "titleAngle": 270, "titleX": -38, "titleY": 62, "titleAlign": "center", "titleBaseline": "middle"}}},
         "layer": [
           {"data": {"name": "aT"}, "transform": [{"fold": ["ni", "ce"], "as": ["s", "e"]}], "mark": {"type": "line", "color": "#ff0000", "strokeWidth": 1, "point": {"filled": true, "size": 22, "color": "#ff0000"}}, "encoding": {"detail": {"field": "s"}}},
           {"data": {"name": "aL"}, "mark": {"type": "text", "align": "left", "baseline": "middle", "fontSize": 17, "font": "Liberation Sans", "color": "#000"}, "encoding": {"text": {"field": "label"}}},
           {"data": {"name": "aA"}, "mark": {"type": "rule", "color": "#000", "strokeWidth": 1.2}, "encoding": {"x2": {"field": "t2"}}},
           {"data": {"name": "aAH"}, "mark": {"type": "point", "shape": "triangle-right", "filled": true, "color": "#000", "size": 35, "opacity": 1}, "encoding": {}}
         ]}
      ],
      "resolve": {"scale": {"y": "independent"}}
    },
    {
      "width": 404, "height": 141,
      "title": {"text": "(b) NiSDC650"},
      "encoding": {"x": {"field": "t", "type": "quantitative", "scale": {"domain": [0, 36.7], "nice": false, "zero": false},
        "axis": {"title": null, "format": "d", "values": [0,2.5,5,7.5,10,12.5,15,17.5,20,22.5,25,27.5,30,32.5,35], "labelExpr": "datum.value % 5 === 0 ? datum.label : ''", "tickSize": {"condition": {"test": "datum.value % 5 !== 0", "value": 2.5}, "value": 5}}}},
      "layer": [
        {"data": {"name": "bTT"}, "mark": {"type": "line", "color": "#777", "strokeDash": [1.5, 2.2], "strokeWidth": 1.6},
         "encoding": {"y": {"field": "T", "type": "quantitative", "scale": {"domain": [400, 676], "nice": false, "zero": false},
           "axis": {"orient": "right", "values": [400,450,500,550,600,650], "labelColor": "#444", "labelExpr": "datum.value % 100 === 0 ? datum.label : ''", "tickSize": {"condition": {"test": "datum.value % 100 !== 0", "value": 2.5}, "value": 5}, "title": "Temperature (°C)", "titleAngle": 270, "titleX": 78, "titleY": 156, "titleAlign": "center", "titleBaseline": "middle"}}}},
        {"encoding": {"y": {"field": "e", "type": "quantitative", "scale": {"domain": [0, 1.1], "nice": false},
           "axis": {"orient": "left", "values": [0,0.1,0.2,0.3,0.4,0.5,0.6,0.7,0.8,0.9,1], "labelExpr": "round(datum.value*10) % 2 === 0 ? format(datum.value, '.1f') : ''", "tickSize": {"condition": {"test": "round(datum.value*10) % 2 !== 0", "value": 2.5}, "value": 5}, "title": "ε", "titleFontSize": 26, "titleAngle": 270, "titleX": -38, "titleY": 62, "titleAlign": "center", "titleBaseline": "middle"}}},
         "layer": [
           {"data": {"name": "bT"}, "transform": [{"fold": ["ni", "ce"], "as": ["s", "e"]}], "mark": {"type": "line", "color": "#1b8f1b", "strokeWidth": 1, "point": {"filled": true, "size": 16, "color": "#1b8f1b"}}, "encoding": {"detail": {"field": "s"}}},
           {"data": {"name": "bL"}, "mark": {"type": "text", "align": "left", "baseline": "middle", "fontSize": 17, "font": "Liberation Sans", "color": "#000"}, "encoding": {"text": {"field": "label"}}}
         ]}
      ],
      "resolve": {"scale": {"y": "independent"}}
    },
    {
      "width": 404, "height": 141,
      "encoding": {"x": {"field": "t", "type": "quantitative", "scale": {"domain": [0, 36.7], "nice": false, "zero": false},
        "axis": {"title": "Time (min)", "titlePadding": 2, "format": "d", "values": [0,2.5,5,7.5,10,12.5,15,17.5,20,22.5,25,27.5,30,32.5,35], "labelExpr": "datum.value % 5 === 0 ? datum.label : ''", "tickSize": {"condition": {"test": "datum.value % 5 !== 0", "value": 2.5}, "value": 5}}}},
      "layer": [
        {"data": {"name": "aM"}, "mark": {"type": "line", "strokeWidth": 3.5, "interpolate": "monotone"},
         "encoding": {"y": {"field": "v", "type": "quantitative", "scale": {"domain": [0, 100], "nice": false}, "axis": {"orient": "left", "labels": false, "ticks": false, "title": "M.S. Signal (a.u.)", "titlePadding": 12}},
           "color": {"field": "s", "type": "nominal", "scale": {"domain": ["H₂","CH₄","H₂O","CO","O₂","CO₂"], "range": ["#80cfff","#ff9b9b","#0000e8","#a8e05f","#f2be68","#c0c0c0"]},
             "legend": {"orient": "none", "legendX": 2, "legendY": -4, "direction": "horizontal", "title": null, "symbolType": "M-1,0H1M-0.12,0a0.12,0.12 0 1,0 0.24,0a0.12,0.12 0 1,0 -0.24,0", "symbolSize": 900, "symbolStrokeWidth": 2, "columnPadding": 4, "labelOffset": 3}}}},
        {"data": {"name": "aBT"}, "mark": {"type": "line", "color": "#000", "strokeDash": [1.5, 2.2], "strokeWidth": 1.8},
         "encoding": {"y": {"field": "T", "type": "quantitative", "scale": {"domain": [400, 650], "nice": false, "zero": false},
           "axis": {"orient": "right", "values": [400,450,500,550,600,650], "labelExpr": "datum.value % 100 === 0 ? datum.label : ''", "tickSize": {"condition": {"test": "datum.value % 100 !== 0", "value": 2.5}, "value": 5}, "title": null}}}}
      ],
      "resolve": {"scale": {"y": "independent"}}
    },
    {
      "width": 404, "height": 141,
      "encoding": {"x": {"field": "t", "type": "quantitative", "scale": {"domain": [0, 36.7], "nice": false, "zero": false},
        "axis": {"title": "Time (min)", "titlePadding": 2, "format": "d", "values": [0,2.5,5,7.5,10,12.5,15,17.5,20,22.5,25,27.5,30,32.5,35], "labelExpr": "datum.value % 5 === 0 ? datum.label : ''", "tickSize": {"condition": {"test": "datum.value % 5 !== 0", "value": 2.5}, "value": 5}}}},
      "layer": [
        {"data": {"name": "bM"}, "mark": {"type": "line", "strokeWidth": 3.5, "interpolate": "monotone"},
         "encoding": {"y": {"field": "v", "type": "quantitative", "scale": {"domain": [0, 100], "nice": false}, "axis": {"orient": "left", "labels": false, "ticks": false, "title": "M. S. Signal (a.u.)", "titlePadding": 12}},
           "color": {"field": "s", "type": "nominal", "scale": {"domain": ["H₂","CH₄","H₂O","CO","O₂","CO₂"], "range": ["#80cfff","#ff9b9b","#0000e8","#a8e05f","#f2be68","#c0c0c0"]},
             "legend": {"orient": "none", "legendX": 5, "legendY": -6, "direction": "horizontal", "title": null, "symbolType": "M-0.12,0a0.12,0.12 0 1,0 0.24,0a0.12,0.12 0 1,0 -0.24,0", "symbolSize": 400, "symbolStrokeWidth": 3, "columnPadding": 9, "labelOffset": 8}}}},
        {"data": {"name": "bBT"}, "mark": {"type": "line", "color": "#000", "strokeDash": [1.5, 2.2], "strokeWidth": 1.8},
         "encoding": {"y": {"field": "T", "type": "quantitative", "scale": {"domain": [400, 650], "nice": false, "zero": false},
           "axis": {"orient": "right", "values": [400,450,500,550,600,650], "labelExpr": "datum.value % 100 === 0 ? datum.label : ''", "tickSize": {"condition": {"test": "datum.value % 100 !== 0", "value": 2.5}, "value": 5}, "title": null}}}}
      ],
      "resolve": {"scale": {"y": "independent"}}
    },
    {"width": 404, "height": 25, "data": {"name": "blank"}, "mark": {"type": "point", "opacity": 0}, "encoding": {}, "view": {"stroke": null}},
    {"width": 404, "height": 25, "data": {"name": "blank"}, "mark": {"type": "point", "opacity": 0}, "encoding": {}, "view": {"stroke": null}},
    {
      "width": 404, "height": 141,
      "title": {"text": "(c) NiSDC900"},
      "encoding": {"x": {"field": "t", "type": "quantitative", "scale": {"domain": [0, 50], "nice": false, "zero": false},
        "axis": {"title": null, "format": "d", "values": [0,2.5,5,7.5,10,12.5,15,17.5,20,22.5,25,27.5,30,32.5,35,37.5,40,42.5,45,47.5,50], "labelExpr": "datum.value % 5 === 0 ? datum.label : ''", "tickSize": {"condition": {"test": "datum.value % 5 !== 0", "value": 2.5}, "value": 5}}}},
      "layer": [
        {"data": {"name": "cTT"}, "mark": {"type": "line", "color": "#000", "strokeDash": [1.5, 2.2], "strokeWidth": 1.8},
         "encoding": {"y": {"field": "T", "type": "quantitative", "scale": {"domain": [497, 804], "nice": false, "zero": false},
           "axis": {"orient": "right", "values": [500,550,600,650,700,750,800], "labelExpr": "datum.value % 100 === 0 ? datum.label : ''", "tickSize": {"condition": {"test": "datum.value % 100 !== 0", "value": 2.5}, "value": 5}, "title": "Temperature (°C)", "titleAngle": 270, "titleX": 78, "titleY": 141, "titleAlign": "center", "titleBaseline": "middle"}}}},
        {"encoding": {"y": {"field": "e", "type": "quantitative", "scale": {"domain": [0, 1.085], "nice": false},
           "axis": {"orient": "left", "values": [0,0.1,0.2,0.3,0.4,0.5,0.6,0.7,0.8,0.9,1], "labelExpr": "round(datum.value*10) % 2 === 0 ? format(datum.value, '.1f') : ''", "tickSize": {"condition": {"test": "round(datum.value*10) % 2 !== 0", "value": 2.5}, "value": 5}, "title": "ε", "titleFontSize": 26, "titleAngle": 270, "titleX": -38, "titleY": 76, "titleAlign": "center", "titleBaseline": "middle"}}},
         "layer": [
           {"data": {"name": "cT"}, "transform": [{"fold": ["ni", "ce"], "as": ["s", "e"]}], "mark": {"type": "line", "color": "#1a1aff", "strokeWidth": 3, "point": {"filled": true, "size": 10, "color": "#1a1aff"}}, "encoding": {"detail": {"field": "s"}}},
           {"data": {"name": "cL"}, "mark": {"type": "text", "align": "left", "baseline": "middle", "fontSize": 17, "font": "Liberation Sans", "color": "#000"}, "encoding": {"text": {"field": "label"}}}
         ]}
      ],
      "resolve": {"scale": {"y": "independent"}}
    },
    {
      "width": 404, "height": 141,
      "title": {"text": "(d) NiSDC1100"},
      "encoding": {"x": {"field": "t", "type": "quantitative", "scale": {"domain": [0, 50], "nice": false, "zero": false},
        "axis": {"title": null, "format": "d", "values": [0,2.5,5,7.5,10,12.5,15,17.5,20,22.5,25,27.5,30,32.5,35,37.5,40,42.5,45,47.5,50], "labelExpr": "datum.value % 5 === 0 ? datum.label : ''", "tickSize": {"condition": {"test": "datum.value % 5 !== 0", "value": 2.5}, "value": 5}}}},
      "layer": [
        {"data": {"name": "dTT"}, "mark": {"type": "line", "color": "#000", "strokeDash": [1.5, 2.2], "strokeWidth": 1.8},
         "encoding": {"y": {"field": "T", "type": "quantitative", "scale": {"domain": [497, 804], "nice": false, "zero": false},
           "axis": {"orient": "right", "values": [500,550,600,650,700,750,800], "labelExpr": "datum.value % 100 === 0 ? datum.label : ''", "tickSize": {"condition": {"test": "datum.value % 100 !== 0", "value": 2.5}, "value": 5}, "title": "Temperature (°C)", "titleAngle": 270, "titleX": 78, "titleY": 141, "titleAlign": "center", "titleBaseline": "middle"}}}},
        {"encoding": {"y": {"field": "e", "type": "quantitative", "scale": {"domain": [0, 1.085], "nice": false},
           "axis": {"orient": "left", "values": [0,0.1,0.2,0.3,0.4,0.5,0.6,0.7,0.8,0.9,1], "labelExpr": "round(datum.value*10) % 2 === 0 ? format(datum.value, '.1f') : ''", "tickSize": {"condition": {"test": "round(datum.value*10) % 2 !== 0", "value": 2.5}, "value": 5}, "title": "ε", "titleFontSize": 26, "titleAngle": 270, "titleX": -38, "titleY": 66, "titleAlign": "center", "titleBaseline": "middle"}}},
         "layer": [
           {"data": {"name": "dT"}, "transform": [{"fold": ["ni", "ce"], "as": ["s", "e"]}], "mark": {"type": "line", "color": "#000", "strokeWidth": 4}, "encoding": {"detail": {"field": "s"}}},
           {"data": {"name": "dL"}, "mark": {"type": "text", "align": "left", "baseline": "middle", "fontSize": 17, "font": "Liberation Sans", "color": "#000"}, "encoding": {"text": {"field": "label"}}},
           {"data": {"name": "dA"}, "mark": {"type": "rule", "color": "#000", "strokeWidth": 1.2}, "encoding": {"x2": {"field": "t2"}}},
           {"data": {"name": "dAH"}, "mark": {"type": "point", "shape": "triangle-right", "filled": true, "color": "#000", "size": 14, "opacity": 1}, "encoding": {}}
         ]}
      ],
      "resolve": {"scale": {"y": "independent"}}
    },
    {
      "width": 404, "height": 141,
      "encoding": {"x": {"field": "t", "type": "quantitative", "scale": {"domain": [0, 50], "nice": false, "zero": false},
        "axis": {"title": "Time (min)", "titlePadding": 2, "format": "d", "values": [0,2.5,5,7.5,10,12.5,15,17.5,20,22.5,25,27.5,30,32.5,35,37.5,40,42.5,45,47.5,50], "labelExpr": "datum.value % 5 === 0 ? datum.label : ''", "tickSize": {"condition": {"test": "datum.value % 5 !== 0", "value": 2.5}, "value": 5}}}},
      "layer": [
        {"data": {"name": "cM"}, "mark": {"type": "line", "strokeWidth": 3.5, "interpolate": "monotone"},
         "encoding": {"y": {"field": "v", "type": "quantitative", "scale": {"domain": [0, 100], "nice": false}, "axis": {"orient": "left", "labels": false, "ticks": false, "title": "M. S. Signal (a.u.)", "titlePadding": 12}},
           "color": {"field": "s", "type": "nominal", "scale": {"domain": ["CH₄","H₂O","CO","O₂","CO₂","H₂"], "range": ["#ff9b9b","#0000e8","#b8e890","#ffb38a","#b8b8b8","#78c8f8"]},
             "legend": {"orient": "none", "legendX": 0, "legendY": -9, "direction": "horizontal", "title": null, "symbolType": "M-1,0H1M-0.12,0a0.12,0.12 0 1,0 0.24,0a0.12,0.12 0 1,0 -0.24,0", "symbolSize": 900, "symbolStrokeWidth": 2, "columnPadding": 4, "labelOffset": 3}}}},
        {"data": {"name": "cBT"}, "mark": {"type": "line", "color": "#000", "strokeDash": [1.5, 2.2], "strokeWidth": 1.8},
         "encoding": {"y": {"field": "T", "type": "quantitative", "scale": {"domain": [500, 873], "nice": false, "zero": false},
           "axis": {"orient": "right", "values": [500,550,600,650,700,750,800,850], "labelExpr": "datum.value % 100 === 0 ? datum.label : ''", "tickSize": {"condition": {"test": "datum.value % 100 !== 0", "value": 2.5}, "value": 5}, "title": null}}}}
      ],
      "resolve": {"scale": {"y": "independent"}}
    },
    {
      "width": 404, "height": 141,
      "encoding": {"x": {"field": "t", "type": "quantitative", "scale": {"domain": [0, 50], "nice": false, "zero": false},
        "axis": {"title": "Time (min)", "titlePadding": 2, "format": "d", "values": [0,2.5,5,7.5,10,12.5,15,17.5,20,22.5,25,27.5,30,32.5,35,37.5,40,42.5,45,47.5,50], "labelExpr": "datum.value % 5 === 0 ? datum.label : ''", "tickSize": {"condition": {"test": "datum.value % 5 !== 0", "value": 2.5}, "value": 5}}}},
      "layer": [
        {"data": {"name": "dM"}, "mark": {"type": "line", "strokeWidth": 3.5, "interpolate": "monotone"},
         "encoding": {"y": {"field": "v", "type": "quantitative", "scale": {"domain": [0, 100], "nice": false}, "axis": {"orient": "left", "labels": false, "ticks": false, "title": "M.S. Signal (a.u.)", "titlePadding": 12}},
           "color": {"field": "s", "type": "nominal", "scale": {"domain": ["H₂","CH₄","H₂O","CO","O₂","CO₂"], "range": ["#80cfff","#ff9b9b","#0000e8","#a8e05f","#f0bc5e","#c0c0c0"]},
             "legend": {"orient": "none", "legendX": 5, "legendY": -2, "direction": "horizontal", "title": null, "symbolType": "M-0.12,0a0.12,0.12 0 1,0 0.24,0a0.12,0.12 0 1,0 -0.24,0", "symbolSize": 400, "symbolStrokeWidth": 3, "columnPadding": 9, "labelOffset": 8}}}},
        {"data": {"name": "dBT"}, "mark": {"type": "line", "color": "#000", "strokeDash": [1.5, 2.2], "strokeWidth": 1.8},
         "encoding": {"y": {"field": "T", "type": "quantitative", "scale": {"domain": [500, 871], "nice": false, "zero": false},
           "axis": {"orient": "right", "values": [500,550,600,650,700,750,800,850], "labelExpr": "datum.value % 100 === 0 ? datum.label : ''", "tickSize": {"condition": {"test": "datum.value % 100 !== 0", "value": 2.5}, "value": 5}, "title": null}}}}
      ],
      "resolve": {"scale": {"y": "independent"}}
    }
  ]
}
